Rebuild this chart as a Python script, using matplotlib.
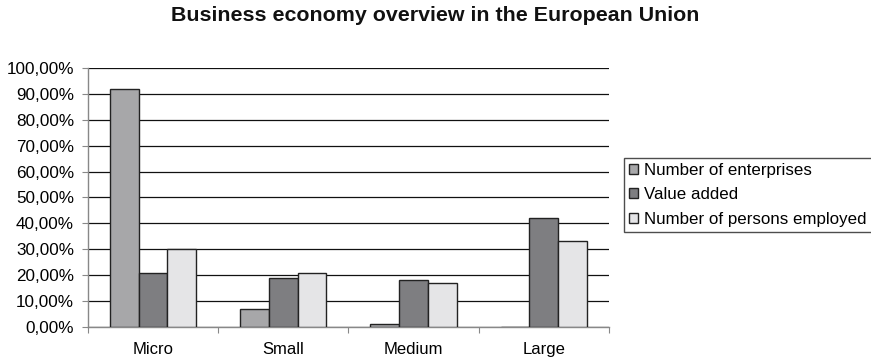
import numpy as np
import matplotlib.pyplot as plt
from matplotlib.ticker import FuncFormatter

plt.rcParams['font.family'] = ['Liberation Sans', 'DejaVu Sans']

categories = ['Micro', 'Small', 'Medium', 'Large']
series_names = ['Number of enterprises', 'Value added', 'Number of persons employed']
enterprises = [92.0, 7.0, 1.0, 0.0]
value_added = [21.0, 19.0, 18.0, 42.0]
persons_employed = [30.0, 21.0, 17.0, 33.0]
colors = ['#a7a7a9', '#7e7e81', '#e5e5e7']

fig = plt.figure(figsize=(8.71, 3.64), dpi=100)
ax = fig.add_axes([0.101, 0.1016, 0.598, 0.712])

x = np.arange(len(categories))
w = 0.221
for i, (vals, name) in enumerate(zip([enterprises, value_added, persons_employed], series_names)):
    ax.bar(x + (i - 1) * w, vals, w, color=colors[i], edgecolor='#222222',
           linewidth=1.0, label=name, zorder=3)

ax.set_xlim(-0.5, 3.5)
ax.set_ylim(0, 100)
ax.set_yticks(np.arange(0, 101, 10))
ax.yaxis.set_major_formatter(FuncFormatter(lambda v, p: f'{v:.2f}'.replace('.', ',') + '%'))
ax.yaxis.grid(True, color='#111111', linewidth=0.9, zorder=0)

# category ticks sit between the groups, labels in the middle
ax.set_xticks(np.arange(-0.5, 4.0, 1.0))
ax.set_xticklabels([])
ax.set_xticks(x, minor=True)
ax.set_xticklabels(categories, minor=True)
ax.tick_params(axis='x', which='minor', length=0, pad=11, labelsize=12)
ax.tick_params(axis='x', which='major', length=4, color='#888888', direction='out')
ax.tick_params(axis='y', length=4, color='#888888', labelsize=12.3, pad=6)

for s in ['top', 'right']:
    ax.spines[s].set_visible(False)
for s in ['left', 'bottom']:
    ax.spines[s].set_color('#888888')
    ax.spines[s].set_linewidth(1.0)

fig.text(0.5, 0.957, 'Business economy overview in the European Union',
         ha='center', va='center', fontsize=15.4, fontweight='bold', color='#111111')

leg = fig.legend(loc='upper left', bbox_to_anchor=(0.7164, 0.566), fontsize=12.2,
                 frameon=True, fancybox=False, handlelength=0.55, handleheight=0.55,
                 handletextpad=0.35, borderpad=0.3, labelspacing=0.55, borderaxespad=0)
leg.get_frame().set_edgecolor('#222222')
leg.get_frame().set_linewidth(1.0)

fig.savefig('out.png', dpi=100)
